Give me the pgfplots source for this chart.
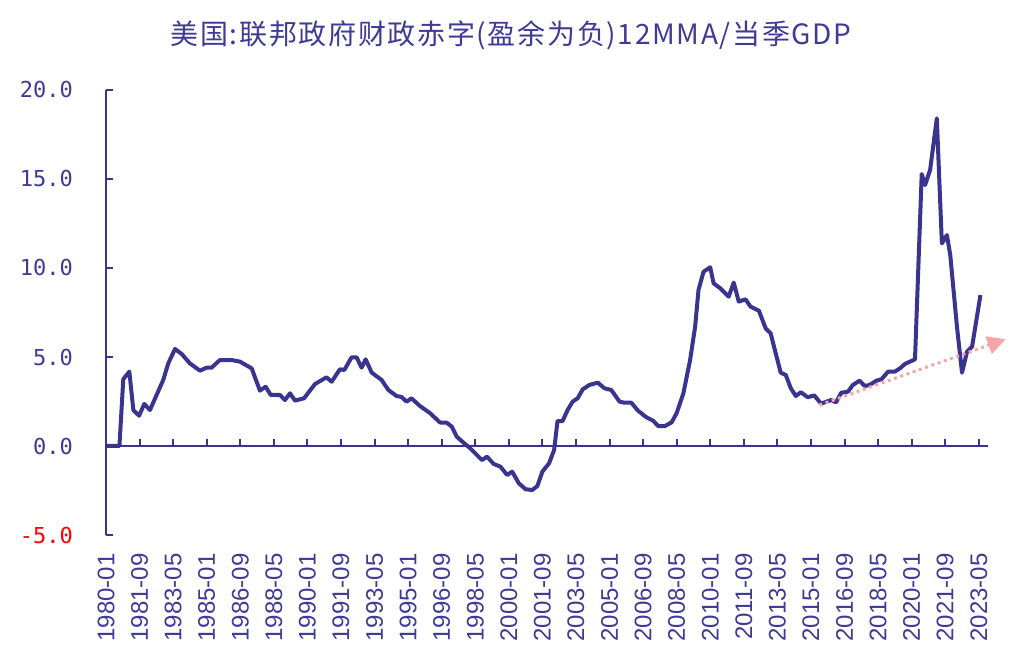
\documentclass[border=0pt]{standalone}
\usepackage{pgfplots}
\pgfplotsset{compat=1.18}
\usepackage{fontspec}
\setmainfont{Liberation Sans}
\newfontfamily\cjk{Noto Sans CJK SC}
\newfontfamily\mono{DejaVu Sans Mono}
\usetikzlibrary{arrows.meta}
\definecolor{navy}{RGB}{58,52,145}
\definecolor{tblue}{RGB}{62,58,150}
\definecolor{pinkarrow}{RGB}{247,165,165}

\pgfplotstableread{
m v
0 0
6 0
8 0
10.3 3.75
13.9 4.18
16.3 2.02
19.7 1.70
22.8 2.36
26.2 2.02
34.1 3.71
37.1 4.64
41.1 5.45
45.1 5.17
50 4.64
56 4.23
59.9 4.40
62.9 4.40
67.9 4.83
74.8 4.83
79.8 4.74
86.8 4.36
91.7 3.11
95.1 3.33
98.1 2.87
103.6 2.87
106.6 2.58
109.6 2.96
112.6 2.55
118 2.68
124.5 3.48
131.4 3.86
134.4 3.61
139.4 4.31
142 4.27
146.3 4.98
149.3 4.98
152.3 4.40
154.7 4.87
158.3 4.12
164.2 3.71
168.2 3.15
173.1 2.81
176 2.76
179.1 2.49
182 2.68
187 2.25
193 1.85
199 1.32
203 1.31
206 1.09
209 0.52
213 0.19
217 -0.13
221 -0.51
224 -0.79
227 -0.60
231 -1.01
235 -1.16
239 -1.63
242 -1.44
246 -2.10
250 -2.43
254 -2.47
257 -2.25
260 -1.44
264 -0.97
267 -0.22
269 1.40
272 1.40
275 2.02
278 2.49
281 2.68
284 3.18
288 3.43
293 3.56
297 3.24
301 3.15
306 2.49
309 2.43
313 2.43
317 1.98
322 1.61
326 1.42
329 1.12
333 1.12
337 1.33
340 1.85
344 2.96
348 4.83
351 6.70
353 8.76
356 9.79
360 10.04
362 9.14
366 8.86
371 8.39
374 9.18
377 8.11
381 8.24
384 7.83
389 7.60
393 6.61
396 6.33
399 5.21
402 4.12
405 3.99
408 3.24
411 2.81
414 3.02
418 2.74
422 2.84
426 2.38
432 2.58
435 2.45
438 2.99
442 3.05
445 3.43
449 3.67
452 3.37
455 3.43
459 3.67
462 3.75
466 4.18
470 4.18
473 4.36
476 4.61
479 4.74
482 4.87
486 15.28
488 14.66
491 15.51
495 18.41
498 11.38
501 11.85
503 10.73
507 6.70
510 4.12
513 5.30
516 5.58
521 8.48
}\deficit

\begin{document}
\begin{tikzpicture}
\path[use as bounding box] (0,0) rectangle (518pt,328.5pt);
\node[text=tblue, font=\cjk\fontsize{14pt}{16pt}\selectfont\addfontfeatures{LetterSpace=6}] at (255.5pt,311pt) {美国:联邦政府财政赤字(盈余为负)12MMA/当季GDP};
\begin{axis}[
 at={(53pt,61pt)}, anchor=south west, scale only axis, width=441pt, height=222.5pt,
 xmin=0, xmax=525.5, ymin=-5, ymax=20,
 axis y line=left, axis x line=middle,
 axis line style={-, draw=navy, line width=1pt},
 xtick={0,20,...,520}, xticklabels={},
 ytick={-5,0,...,20},
 yticklabels={\textcolor{red}{-5.0},0.0,5.0,10.0,15.0,20.0},
 tick align=inside, major tick length=3.5pt,
 tick style={draw=navy, line width=1pt},
 yticklabel style={font=\mono\fontsize{11pt}{13pt}\selectfont, text=tblue, xshift=-13pt},
 clip=false,
]
\addplot[navy, line width=2pt, line join=round] table[x=m, y=v] {\deficit};
\addplot[pinkarrow, line width=1.5pt, dash pattern=on 1.5pt off 1.8pt, -{Triangle[length=9pt,width=9pt]}] coordinates {(425,2.3) (536,6.0)};
\end{axis}
\begin{axis}[
 at={(53pt,61pt)}, anchor=south west, scale only axis, width=441pt, height=222.5pt,
 xmin=0, xmax=525.5, ymin=-5, ymax=20,
 axis x line*=bottom, axis y line=none,
 x axis line style={draw=none}, xtick style={draw=none},
 xtick={0,20,...,520},
 xticklabels={1980-01,1981-09,1983-05,1985-01,1986-09,1988-05,1990-01,1991-09,1993-05,1995-01,1996-09,1998-05,2000-01,2001-09,2003-05,2005-01,2006-09,2008-05,2010-01,2011-09,2013-05,2015-01,2016-09,2018-05,2020-01,2021-09,2023-05},
 xticklabel style={rotate=90, anchor=east, font=\fontsize{12pt}{14pt}\selectfont, text=tblue, inner xsep=9pt},
 ytick=\empty,
]
\addplot[draw=none] coordinates {(0,0)};
\end{axis}
\end{tikzpicture}
\end{document}
